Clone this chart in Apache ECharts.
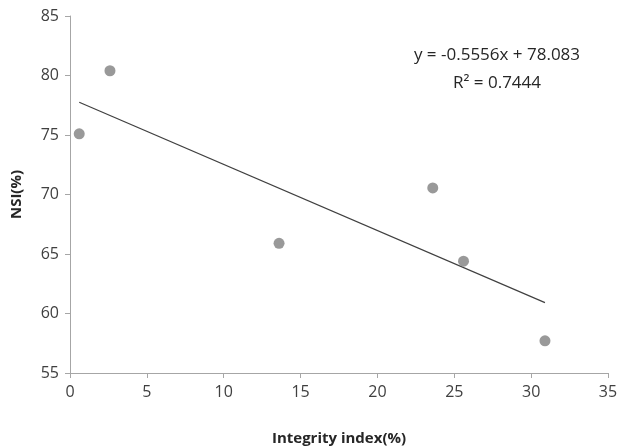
<!DOCTYPE html>
<html>
<head>
<meta charset="utf-8">
<script src="https://cdn.jsdelivr.net/npm/echarts@6/dist/echarts.min.js"></script>
<style>html,body{margin:0;padding:0;background:#fff}#c{width:617px;height:447px}</style>
</head>
<body>
<div id="c"></div>
<script>
var integrity = [0.6, 2.6, 13.6, 23.6, 25.6, 30.9];
var nsi = [75.1, 80.4, 65.9, 70.55, 64.4, 57.7];
var slope = -0.5556, intercept = 78.083;
var eqText = 'y = -0.5556x + 78.083';
var r2Text = 'R\u00b2 = 0.7444';
var xTicks = [0, 35, 5];
var yTicks = [55, 85, 5];

var pts = integrity.map(function (x, i) { return [x, nsi[i]]; });
var xmin = Math.min.apply(null, integrity), xmax = Math.max.apply(null, integrity);
var trend = [[xmin, slope * xmin + intercept], [xmax, slope * xmax + intercept]];
var font = '"Open Sans", "Noto Sans", sans-serif';
var chart = echarts.init(document.getElementById('c'));
chart.setOption({
  animation: false,
  grid: { left: 70, top: 16, right: 9, bottom: 74, containLabel: false, outerBoundsMode: 'none' },
  xAxis: {
    type: 'value', min: xTicks[0], max: xTicks[1], interval: xTicks[2],
    name: 'Integrity index(%)', nameLocation: 'middle', nameGap: 58,
    nameTextStyle: { fontFamily: font, fontSize: 15, fontWeight: 'bold', color: '#262626' },
    axisLine: { lineStyle: { color: '#a6a6a6', width: 1 } },
    axisTick: { show: true, length: 5, lineStyle: { color: '#a6a6a6' } },
    axisLabel: { fontFamily: font, fontSize: 16, color: '#404040', margin: 11 },
    splitLine: { show: false }
  },
  yAxis: {
    type: 'value', min: yTicks[0], max: yTicks[1], interval: yTicks[2],
    name: 'NSI(%)', nameLocation: 'middle', nameGap: 46, nameRotate: 90,
    nameTextStyle: { fontFamily: font, fontSize: 15, fontWeight: 'bold', color: '#262626' },
    axisLine: { show: true, lineStyle: { color: '#a6a6a6', width: 1 } },
    axisTick: { show: true, length: 5, lineStyle: { color: '#a6a6a6' } },
    axisLabel: { fontFamily: font, fontSize: 16, color: '#404040', margin: 11 },
    splitLine: { show: false }
  },
  series: [
    {
      type: 'line', data: trend, symbol: 'none', silent: true,
      lineStyle: { color: '#404040', width: 1.2 }, z: 1
    },
    {
      type: 'scatter', data: pts, symbol: 'circle', symbolSize: 11,
      itemStyle: { color: '#7f7f7f' }, z: 2
    }
  ],
  graphic: [
    { type: 'text', style: { text: eqText, x: 497, y: 55, align: 'center', verticalAlign: 'middle', font: '17px ' + font, fill: '#262626' } },
    { type: 'text', style: { text: r2Text, x: 497, y: 83, align: 'center', verticalAlign: 'middle', font: '17px ' + font, fill: '#262626' } }
  ]
});
</script>
</body>
</html>
